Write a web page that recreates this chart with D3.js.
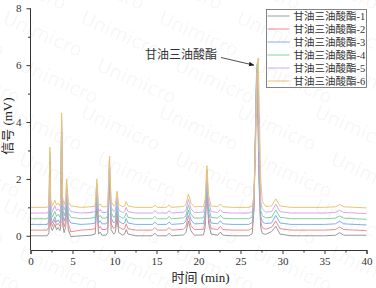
<!DOCTYPE html>
<html>
<head>
<meta charset="utf-8">
<script src="https://cdn.jsdelivr.net/npm/d3@7.9.0/dist/d3.min.js"></script>
<style>
  body { margin: 0; background: #fff; }
  svg { display: block; }
  .axis text { font-family: "Liberation Serif", "Noto Sans CJK SC", serif; font-size: 11px; fill: #333; }
  .axis path, .axis line { stroke: #333; }
</style>
</head>
<body>
<svg id="chart" width="376" height="288"></svg>
<script>
// retention times (min), shared by all six runs
const times = [0, 2.0, 2.2, 2.3, 2.4, 2.6, 2.9, 3.1, 3.3, 3.5, 3.6, 3.7, 3.8, 4.0, 4.2, 4.3, 4.5, 4.8, 6.0, 7.2,
  7.7, 7.9, 8.1, 8.3, 8.5, 9.0, 9.2, 9.4, 9.6, 9.9, 10.1, 10.3, 10.5, 11.0, 11.2, 11.4, 11.6, 12.5, 14.5, 14.8,
  15.1, 16.2, 16.5, 16.8, 18.2, 18.5, 18.8, 19.1, 19.5, 20.6, 20.8, 21.0, 21.2, 21.5, 22.3, 22.6, 22.9, 24.0, 26.0,
  26.4, 26.6, 26.8, 26.9, 27.0, 27.1, 27.2, 27.4, 27.6,
  28.0, 28.7, 29.2, 29.7, 31.0, 35.0, 36.3, 36.8, 37.3, 40];

// signal (mV) of each run
const run1 = [0.00, 0.00, 0.11, 2.33, 0.33, 0.18, 0.40, 0.21, 0.29, 0.18, 0.34, 3.65, 0.44, 0.11, 0.33, 1.10, 0.22, -0.03, 0.00, 0.02,
  0.06, 1.10, 0.06, 0.13, 0.02, 0.02, 0.11, 1.98, 0.22, 0.06, 0.11, 0.63, 0.11, 0.02, 0.06, 0.22, 0.06, 0.00, 0.00, 0.09,
  0.00, 0.00, 0.09, 0.00, 0.03, 0.11, 0.52, 0.17, 0.02, 0.03, 0.33, 1.62, 0.44, 0.06, 0.02, 0.13, 0.02, 0.00, 0.00,
  0.08, 0.90, 3.80, 5.40, 5.60, 3.80, 1.90, 0.30, 0.08,
  0.05, 0.15, 0.33, 0.06, 0.00, 0.00, 0.02, 0.11, 0.02, 0.02];
const run2 = [0.20, 0.20, 0.31, 2.49, 0.52, 0.33, 0.55, 0.37, 0.44, 0.33, 0.50, 3.79, 0.63, 0.31, 0.52, 1.28, 0.42, 0.14, 0.20, 0.22,
  0.25, 1.28, 0.25, 0.33, 0.22, 0.22, 0.31, 2.14, 0.42, 0.25, 0.31, 0.82, 0.31, 0.22, 0.25, 0.42, 0.25, 0.20, 0.20, 0.29,
  0.20, 0.20, 0.29, 0.20, 0.23, 0.31, 0.71, 0.36, 0.22, 0.23, 0.52, 1.79, 0.63, 0.25, 0.22, 0.33, 0.22, 0.20, 0.20,
  0.27, 1.00, 3.60, 5.20, 5.50, 4.00, 2.20, 0.50, 0.28,
  0.23, 0.30, 0.52, 0.25, 0.20, 0.20, 0.22, 0.31, 0.22, 0.18];
const run3 = [0.40, 0.40, 0.51, 2.65, 0.72, 0.45, 0.67, 0.48, 0.56, 0.45, 0.61, 3.92, 0.82, 0.51, 0.72, 1.46, 0.61, 0.45, 0.40, 0.42,
  0.45, 1.46, 0.45, 0.53, 0.42, 0.42, 0.51, 2.31, 0.61, 0.45, 0.51, 1.00, 0.51, 0.42, 0.45, 0.61, 0.45, 0.40, 0.40, 0.48,
  0.40, 0.40, 0.48, 0.40, 0.43, 0.51, 0.90, 0.56, 0.42, 0.43, 0.72, 1.96, 0.82, 0.45, 0.42, 0.53, 0.42, 0.40, 0.40,
  0.47, 1.20, 4.00, 5.70, 6.05, 4.40, 2.60, 0.70, 0.48,
  0.43, 0.45, 0.72, 0.45, 0.40, 0.40, 0.42, 0.51, 0.42, 0.38];
const run4 = [0.60, 0.60, 0.70, 2.80, 0.91, 0.65, 0.86, 0.68, 0.76, 0.65, 0.81, 4.05, 1.02, 0.70, 0.91, 1.64, 0.81, 0.65, 0.60, 0.62,
  0.65, 1.64, 0.65, 0.72, 0.62, 0.62, 0.70, 2.47, 0.81, 0.65, 0.70, 1.19, 0.70, 0.62, 0.65, 0.81, 0.65, 0.60, 0.60, 0.68,
  0.60, 0.60, 0.68, 0.60, 0.63, 0.70, 1.09, 0.76, 0.62, 0.63, 0.91, 2.13, 1.02, 0.65, 0.62, 0.72, 0.62, 0.60, 0.60,
  0.66, 1.30, 3.80, 5.40, 5.90, 4.60, 3.00, 0.90, 0.70,
  0.63, 0.65, 0.91, 0.65, 0.60, 0.60, 0.62, 0.70, 0.62, 0.58];
const run5 = [0.80, 0.80, 0.90, 2.96, 1.11, 0.85, 1.06, 0.88, 0.95, 0.85, 1.00, 4.19, 1.21, 0.90, 1.11, 1.82, 1.00, 0.85, 0.80, 0.82,
  0.85, 1.82, 0.85, 0.92, 0.82, 0.82, 0.90, 2.64, 1.00, 0.85, 0.90, 1.38, 0.90, 0.82, 0.85, 1.00, 0.85, 0.80, 0.80, 0.88,
  0.80, 0.80, 0.88, 0.80, 0.83, 0.90, 1.28, 0.95, 0.82, 0.83, 1.11, 2.30, 1.21, 0.85, 0.82, 0.92, 0.82, 0.80, 0.80,
  0.85, 1.40, 3.60, 5.20, 5.80, 5.00, 3.50, 1.20, 0.95,
  0.83, 0.85, 1.11, 0.85, 0.80, 0.80, 0.82, 0.90, 0.82, 0.78];
const run6 = [1.00, 1.00, 1.10, 3.12, 1.30, 1.05, 1.25, 1.08, 1.15, 1.05, 1.20, 4.32, 1.40, 1.10, 1.30, 2.00, 1.20, 1.05, 1.00, 1.02,
  1.05, 2.00, 1.05, 1.12, 1.02, 1.02, 1.10, 2.80, 1.20, 1.05, 1.10, 1.57, 1.10, 1.02, 1.05, 1.20, 1.05, 1.00, 1.00, 1.08,
  1.00, 1.00, 1.08, 1.00, 1.03, 1.10, 1.47, 1.15, 1.02, 1.03, 1.30, 2.47, 1.40, 1.05, 1.02, 1.12, 1.02, 1.00, 1.00,
  1.05, 1.40, 3.00, 4.80, 6.00, 6.25, 5.00, 2.00, 1.20,
  1.03, 1.05, 1.30, 1.05, 1.00, 1.00, 1.02, 1.10, 1.02, 0.98];

const seriesNames = ['甘油三油酸酯-1', '甘油三油酸酯-2', '甘油三油酸酯-3', '甘油三油酸酯-4', '甘油三油酸酯-5', '甘油三油酸酯-6'];
const seriesColors = ['#9a9a9a', '#f28b8e', '#7eb0ee', '#86cfa6', '#d8a6f2', '#e9c572'];
const seriesValues = [run1, run2, run3, run4, run5, run6];

const xTicks = [0, 5, 10, 15, 20, 25, 30, 35, 40];
const yTicks = [0, 2, 4, 6, 8];

const svg = d3.select('#chart');
const plotL = 30.5, plotR = 366.5, plotT = 8.3, plotB = 250;

const x = d3.scaleLinear().domain([0, 40]).range([plotL, plotR]);
const y = d3.scaleLinear().domain([-0.5, 8]).range([plotB, plotT]);

// lines (run 1 first, run 6 on top)
const line = d3.line().x((d, i) => x(times[i])).y(d => y(d));
svg.append('g')
  .selectAll('path')
  .data(seriesValues)
  .join('path')
  .attr('d', d => line(d))
  .attr('fill', 'none')
  .attr('stroke', (_, i) => seriesColors[i])
  .attr('stroke-width', 1)
  .attr('stroke-linejoin', 'round');

// axes
svg.append('g').attr('class', 'axis')
  .attr('transform', `translate(0,${plotB})`)
  .call(d3.axisBottom(x).tickValues(xTicks).tickSize(4).tickPadding(3).tickFormat(d3.format('d')));
svg.append('g').attr('class', 'axis')
  .attr('transform', `translate(0,${plotB})`)
  .call(d3.axisBottom(x).tickValues(d3.range(2.5, 40, 5)).tickSize(2.5).tickFormat(''))
  .select('.domain').remove();

svg.append('g').attr('class', 'axis')
  .attr('transform', `translate(${plotL},0)`)
  .call(d3.axisLeft(y).tickValues(yTicks).tickSize(4).tickPadding(5).tickFormat(d3.format('d')))
  .select('.domain').attr('d', `M0,${plotB}V${plotT}`);
svg.append('g').attr('class', 'axis')
  .attr('transform', `translate(${plotL},0)`)
  .call(d3.axisLeft(y).tickValues([1, 3, 5, 7]).tickSize(2.5).tickFormat(''))
  .select('.domain').remove();

// axis titles
svg.append('text')
  .attr('x', (plotL + plotR) / 2 + 2).attr('y', 282)
  .attr('text-anchor', 'middle')
  .style('font-family', '"Liberation Serif", "Noto Sans CJK SC", serif')
  .style('font-size', '13px').style('fill', '#222')
  .text('时间 (min)');
svg.append('text')
  .attr('transform', `translate(12,${(plotT + plotB) / 2 - 3}) rotate(-90)`)
  .attr('text-anchor', 'middle')
  .style('font-family', '"Liberation Serif", "Noto Sans CJK SC", serif')
  .style('font-size', '13px').style('fill', '#222')
  .text('信号 (mV)');

// peak annotation with arrow
svg.append('defs').append('marker')
  .attr('id', 'arrow').attr('viewBox', '0 0 10 10')
  .attr('refX', 9).attr('refY', 5)
  .attr('markerWidth', 7).attr('markerHeight', 7)
  .attr('orient', 'auto')
  .append('path').attr('d', 'M0,1L10,5L0,9Z').attr('fill', '#222');
svg.append('text')
  .attr('x', 181).attr('y', 59)
  .attr('text-anchor', 'middle')
  .style('font-family', '"Noto Sans CJK SC", sans-serif')
  .style('font-size', '12px').style('fill', '#333')
  .text('甘油三油酸酯');
svg.append('line')
  .attr('x1', 221).attr('y1', 57.5)
  .attr('x2', x(26.6)).attr('y2', y(6.0))
  .attr('stroke', '#222').attr('stroke-width', 0.8)
  .attr('marker-end', 'url(#arrow)');

// legend
const legend = svg.append('g').attr('transform', 'translate(266.5,9.5)');
legend.append('rect')
  .attr('width', 100).attr('height', 78)
  .attr('fill', '#fff').attr('stroke', '#666').attr('stroke-width', 0.8);
const items = legend.selectAll('g.item')
  .data(seriesNames)
  .join('g').attr('class', 'item')
  .attr('transform', (_, i) => `translate(0,${6.5 + i * 13})`);
items.append('line')
  .attr('x1', 1).attr('x2', 23).attr('y1', 0).attr('y2', 0)
  .attr('stroke', (_, i) => seriesColors[i]).attr('stroke-width', 1);
items.append('text')
  .attr('x', 27).attr('y', 4)
  .style('font-family', '"Liberation Serif", "Noto Sans CJK SC", serif')
  .style('font-size', '10.5px').style('fill', '#333')
  .text(d => d);

// watermark
const marks = [];
for (let r = -1; r < 8; r++) {
  for (let c = -1; c < 6; c++) {
    marks.push([c * 78 + (r % 2) * 16 + 40, r * 47 + 40]);
  }
}
svg.append('g')
  .selectAll('text')
  .data(marks)
  .join('text')
  .attr('transform', d => `translate(${d[0]},${d[1]}) rotate(24)`)
  .attr('text-anchor', 'middle')
  .style('font-family', '"DejaVu Sans", sans-serif')
  .style('font-size', '19px')
  .style('fill', '#000').style('fill-opacity', 0.05)
  .text('Unimicro');
</script>
</body>
</html>
